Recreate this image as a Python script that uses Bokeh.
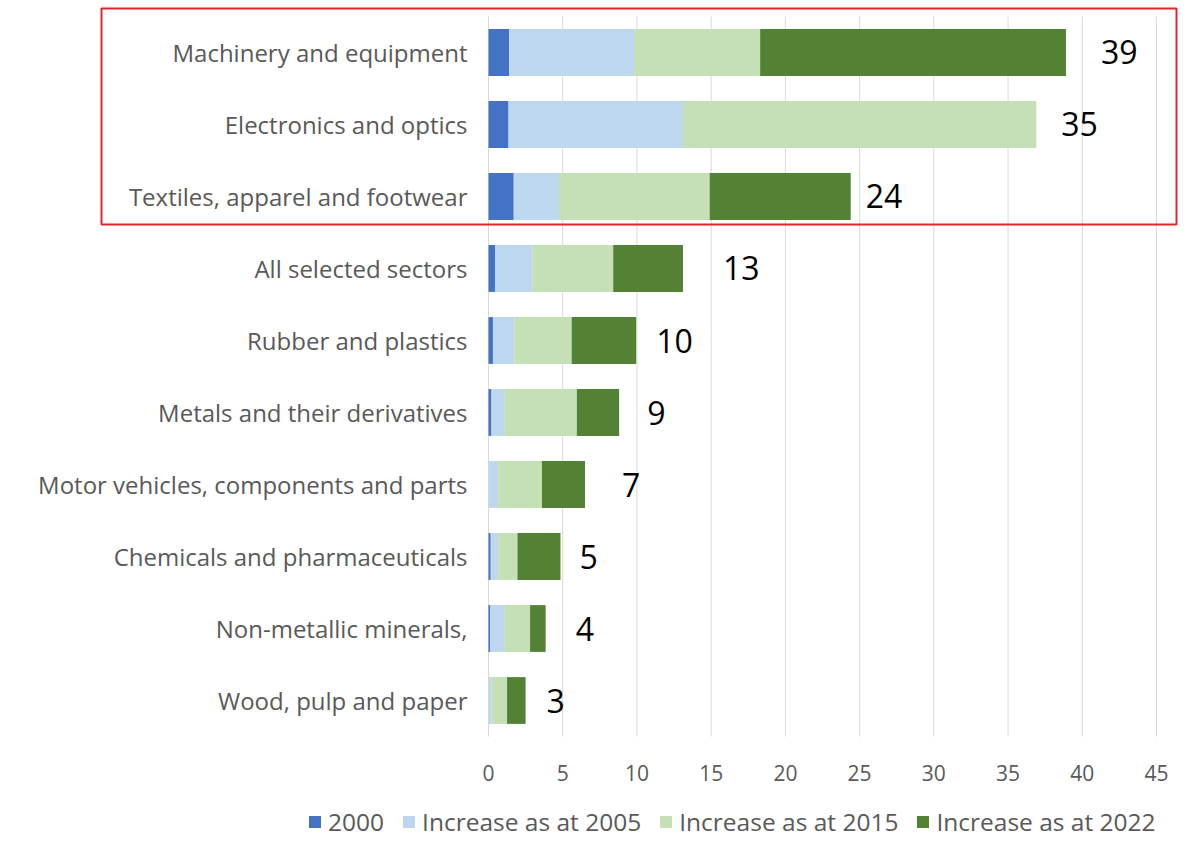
from bokeh.plotting import figure
from bokeh.models import (ColumnDataSource, Range1d, FixedTicker, Legend, LegendItem,
                          BoxAnnotation)
from bokeh.core.properties import value
from bokeh.embed import file_html
from bokeh.resources import INLINE

# ---- data ----
categories = ["Machinery and equipment", "Electronics and optics",
              "Textiles, apparel and footwear", "All selected sectors",
              "Rubber and plastics", "Metals and their derivatives",
              "Motor vehicles, components and parts", "Chemicals and pharmaceuticals",
              "Non-metallic minerals,", "Wood, pulp and paper"]
base_2000 = [1.4, 1.35, 1.7, 0.45, 0.3, 0.2, 0.0, 0.15, 0.1, 0.0]
inc_2005 = [8.4, 11.75, 3.05, 2.5, 1.45, 0.9, 0.65, 0.5, 1.0, 0.2]
inc_2015 = [8.5, 23.8, 10.15, 5.45, 3.85, 4.85, 2.95, 1.3, 1.7, 1.05]
inc_2022 = [20.6, 0.0, 9.5, 4.7, 4.35, 2.85, 2.9, 2.9, 1.05, 1.25]
value_labels = ["39", "35", "24", "13", "10", "9", "7", "5", "4", "3"]
series_names = ["2000", "Increase as at 2005", "Increase as at 2015", "Increase as at 2022"]
x_ticks = [0, 5, 10, 15, 20, 25, 30, 35, 40, 45]

# ---- styling ----
colors = ["#4472c4", "#bdd7ee", "#c5e0b4", "#548235"]
label_gap_px = [35, 25, 15, 40, 20, 28, 37, 19, 30, 21]
FONT = "Open Sans"
GREY = "#595959"

n = len(categories)
ypos = list(range(n - 1, -1, -1))          # first category at the top
totals = [a + b + c + d for a, b, c, d in zip(base_2000, inc_2005, inc_2015, inc_2022)]
keys = ["s2000", "s2005", "s2015", "s2022"]
src = ColumnDataSource(dict(cat=categories, y=ypos, s2000=base_2000, s2005=inc_2005,
                            s2015=inc_2015, s2022=inc_2022, total=totals,
                            lab=value_labels, gap=label_gap_px))

# frame covers the whole canvas; axes are drawn at fixed locations inside it
p = figure(width=1189, height=841, output_backend="svg", toolbar_location=None,
           x_range=Range1d(-32.874, 47.223), y_range=Range1d(-1.9583, 9.7222),
           min_border=0)
p.outline_line_color = None
p.xgrid.visible = False
p.ygrid.visible = False

# vertical grid lines over the category band
p.segment(x0=x_ticks, x1=x_ticks, y0=[min(ypos) - 0.5] * len(x_ticks),
          y1=[max(ypos) + 0.5] * len(x_ticks), line_color="#d9d9d9", line_width=1)

rends = p.hbar_stack(keys, y="y", height=0.65, color=colors, line_width=0, source=src)

p.text(x="total", y="y", text="lab", source=src, x_offset="gap",
       text_align="left", text_baseline="middle", text_color="black",
       text_font=value(FONT), text_font_size="32px")

xa = p.xaxis[0]
xa.fixed_location = min(ypos) - 0.5
xa.ticker = FixedTicker(ticks=x_ticks)
xa.major_label_text_font_size = "21px"
xa.major_label_standoff = 22

ya = p.yaxis[0]
ya.fixed_location = 0
ya.ticker = FixedTicker(ticks=ypos)
ya.major_label_overrides = {yv: c for yv, c in zip(ypos, categories)}
ya.major_label_text_font_size = "24px"
ya.major_label_standoff = 15

for ax in (xa, ya):
    ax.axis_line_color = None
    ax.major_tick_line_color = None
    ax.minor_tick_line_color = None
    ax.major_label_text_color = GREY
    ax.major_label_text_font = FONT

legend = Legend(items=[LegendItem(label=nm, renderers=[r]) for nm, r in zip(series_names, rends)],
                orientation="horizontal", location=(307, 3),
                glyph_width=15, glyph_height=15, label_standoff=6, spacing=17,
                padding=0, margin=0, border_line_color=None, background_fill_alpha=0,
                label_text_font=FONT, label_text_font_size="24.5px",
                label_text_color=GREY, label_height=22)
p.add_layout(legend, "center")

box = BoxAnnotation(left=101, right=1176, top=833, bottom=617,
                    left_units="screen", right_units="screen",
                    top_units="screen", bottom_units="screen",
                    fill_alpha=0, fill_color=None, line_color="#e0262d",
                    line_alpha=1.0, line_width=2)
p.add_layout(box)

open("out.html", "w").write(file_html(p, INLINE))
